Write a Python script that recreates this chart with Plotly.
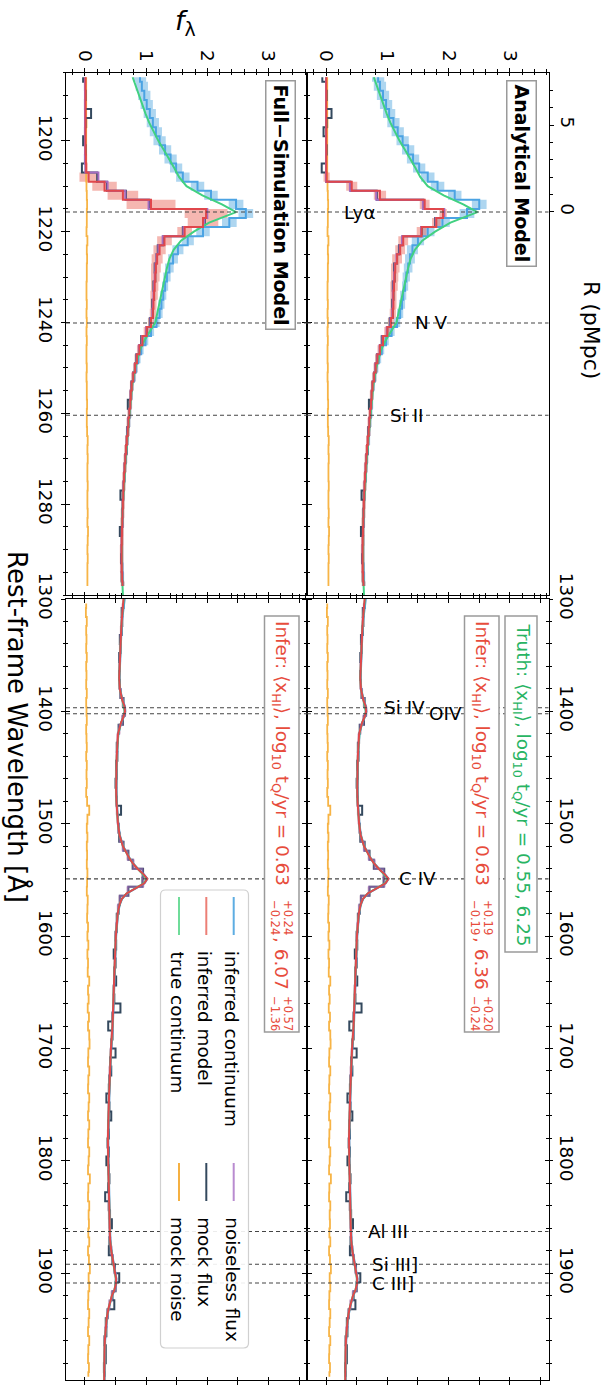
import plotly.graph_objects as go

# ------------------------------------------------------------------
# Data
# ------------------------------------------------------------------
# Lyman-alpha window: 2 A bins (centres)
lam_bin_up = list(range(1186, 1300, 2))

# true intrinsic continuum, Lya window (smooth line)
lam_true_up = [1186, 1188, 1190, 1192, 1194, 1196, 1198, 1200, 1202, 1204, 1206, 1208,
               1210, 1212, 1214, 1215.7, 1217, 1218, 1220, 1222, 1224, 1226, 1228, 1230,
               1232, 1234, 1236, 1238, 1240, 1242, 1244, 1246, 1248, 1250, 1254, 1258,
               1262, 1266, 1270, 1275, 1280, 1285, 1290, 1295, 1300]
true_up = [0.78, 0.83, 0.88, 0.93, 0.99, 1.05, 1.12, 1.20, 1.29, 1.38, 1.46, 1.54,
           1.66, 1.92, 2.24, 2.47, 2.22, 2.03, 1.78, 1.57, 1.45, 1.38, 1.34, 1.31,
           1.28, 1.25, 1.22, 1.19, 1.15, 1.06, 0.97, 0.90, 0.86, 0.82, 0.77, 0.74,
           0.715, 0.69, 0.665, 0.64, 0.62, 0.605, 0.60, 0.605, 0.62]

# inferred continuum (binned)
cont_inf_sim = [0.90, 0.93, 0.97, 1.01, 1.06, 1.11, 1.16, 1.22, 1.31, 1.40, 1.49, 1.60,
                1.84, 2.06, 2.47, 2.63, 2.36, 1.93, 1.68, 1.52, 1.44, 1.38, 1.34, 1.31,
                1.28, 1.25, 1.22, 1.17, 1.08, 0.99, 0.92, 0.87, 0.83, 0.80, 0.77, 0.755,
                0.74, 0.73, 0.715, 0.70, 0.69, 0.675, 0.665, 0.655, 0.645, 0.635, 0.625,
                0.62, 0.615, 0.61, 0.605, 0.605, 0.605, 0.605, 0.61, 0.615, 0.62]
cont_inf_ana = [0.85, 0.88, 0.93, 0.98, 1.03, 1.10, 1.17, 1.25, 1.34, 1.42, 1.52, 1.66,
                1.82, 2.10, 2.50, 2.30, 1.90, 1.66, 1.50, 1.41, 1.37, 1.34, 1.31, 1.29,
                1.26, 1.24, 1.21, 1.16, 1.07, 0.98, 0.91, 0.86, 0.82, 0.79, 0.77, 0.75,
                0.74, 0.73, 0.715, 0.70, 0.69, 0.675, 0.665, 0.655, 0.645, 0.635, 0.625,
                0.62, 0.615, 0.61, 0.605, 0.605, 0.605, 0.605, 0.61, 0.615, 0.62]
cont_sig = [0.10, 0.10, 0.10, 0.10, 0.10, 0.10, 0.10, 0.10, 0.10, 0.10, 0.10, 0.11,
            0.11, 0.11, 0.12, 0.12, 0.12, 0.11, 0.10, 0.09, 0.08, 0.07, 0.06, 0.05,
            0.05, 0.05, 0.05, 0.05, 0.05, 0.045, 0.04, 0.04, 0.035, 0.035, 0.03, 0.03,
            0.03, 0.03, 0.03, 0.03, 0.03, 0.025, 0.025, 0.025, 0.025, 0.025, 0.025,
            0.025, 0.025, 0.025, 0.025, 0.025, 0.025, 0.025, 0.025, 0.025, 0.025]

# inferred model flux (binned)
model_sim = [0.01, 0.01, 0.01, 0.01, 0.01, 0.01, 0.01, 0.01, 0.01, 0.015, 0.02,
             0.06, 0.32, 0.62, 1.08, 1.98, 1.93, 1.63, 1.30, 1.22, 1.18, 1.16, 1.15,
             1.14, 1.13, 1.12, 1.11, 1.08, 1.01, 0.94, 0.89, 0.85, 0.82, 0.79, 0.765,
             0.75, 0.74, 0.725, 0.71, 0.70, 0.685, 0.672, 0.66, 0.65, 0.64, 0.632,
             0.625, 0.62, 0.615, 0.61, 0.605, 0.603, 0.60, 0.60, 0.602, 0.608, 0.615]
model_ana = [0.005, 0.005, 0.005, 0.005, 0.005, 0.005, 0.005, 0.005, 0.005, 0.005, 0.005,
             0.01, 0.42, 0.88, 1.61, 1.91, 1.80, 1.56, 1.26, 1.21, 1.16, 1.13, 1.12,
             1.11, 1.10, 1.10, 1.09, 1.06, 1.00, 0.93, 0.88, 0.84, 0.81, 0.785, 0.76,
             0.745, 0.735, 0.72, 0.707, 0.697, 0.683, 0.67, 0.658, 0.648, 0.638, 0.63,
             0.623, 0.618, 0.613, 0.608, 0.603, 0.60, 0.598, 0.598, 0.60, 0.606, 0.613]
model_sig_sim = [0.02, 0.02, 0.02, 0.02, 0.02, 0.02, 0.02, 0.02, 0.02, 0.02, 0.02,
                 0.15, 0.20, 0.25, 0.40, 0.35, 0.25, 0.12, 0.12, 0.10, 0.09, 0.08, 0.07,
                 0.06, 0.06, 0.05, 0.05, 0.05, 0.05, 0.04, 0.04, 0.04, 0.035, 0.035, 0.03,
                 0.03, 0.03, 0.03, 0.03, 0.03, 0.03, 0.03, 0.03, 0.03, 0.03, 0.03,
                 0.03, 0.03, 0.03, 0.03, 0.03, 0.03, 0.03, 0.03, 0.03, 0.03, 0.03]
model_sig_ana = [0.02, 0.02, 0.02, 0.02, 0.02, 0.02, 0.02, 0.02, 0.02, 0.02, 0.02,
                 0.05, 0.09, 0.10, 0.08, 0.06, 0.07, 0.08, 0.08, 0.08, 0.08, 0.07, 0.06,
                 0.06, 0.05, 0.05, 0.05, 0.05, 0.05, 0.04, 0.04, 0.04, 0.035, 0.035, 0.03,
                 0.03, 0.03, 0.03, 0.03, 0.03, 0.03, 0.03, 0.03, 0.03, 0.03, 0.03,
                 0.03, 0.03, 0.03, 0.03, 0.03, 0.03, 0.03, 0.03, 0.03, 0.03, 0.03]

# noiseless transmitted flux (binned)
clean_sim = [0.0, 0.0, 0.0, 0.0, 0.0, 0.0, 0.0, 0.0, 0.0, 0.0, 0.005,
             0.22, 0.37, 0.66, 1.04, 2.00, 1.95, 1.61, 1.27, 1.20, 1.17, 1.15, 1.14,
             1.13, 1.12, 1.11, 1.10, 1.07, 1.00, 0.93, 0.88, 0.845, 0.815, 0.787, 0.762,
             0.747, 0.737, 0.722, 0.708, 0.698, 0.684, 0.671, 0.659, 0.649, 0.639, 0.631,
             0.624, 0.619, 0.614, 0.609, 0.604, 0.601, 0.599, 0.599, 0.601, 0.607, 0.614]
clean_ana = [0.0, 0.0, 0.0, 0.0, 0.0, 0.0, 0.0, 0.0, 0.0, 0.0, 0.0,
             0.0, 0.39, 0.82, 1.58, 1.93, 1.79, 1.55, 1.24, 1.20, 1.15, 1.12, 1.11,
             1.10, 1.09, 1.09, 1.08, 1.05, 0.99, 0.92, 0.875, 0.835, 0.805, 0.787, 0.762,
             0.747, 0.737, 0.722, 0.708, 0.698, 0.684, 0.671, 0.659, 0.649, 0.639, 0.631,
             0.624, 0.619, 0.614, 0.609, 0.604, 0.601, 0.599, 0.599, 0.601, 0.607, 0.614]

# mock observed flux (binned)
mock_sim = [-0.03, 0.0, 0.01, 0.0, 0.10, 0.01, 0.0, -0.03, 0.01, 0.0, -0.05,
            0.20, 0.36, 0.67, 1.05, 1.99, 1.96, 1.60, 1.28, 1.19, 1.17, 1.14, 1.15,
            1.12, 1.13, 1.10, 1.11, 1.06, 1.01, 0.92, 0.89, 0.84, 0.82, 0.79, 0.76,
            0.75, 0.70, 0.72, 0.71, 0.69, 0.685, 0.68, 0.66, 0.65, 0.64, 0.635,
            0.58, 0.62, 0.61, 0.61, 0.57, 0.605, 0.60, 0.59, 0.605, 0.60, 0.615]
mock_ana = [-0.06, 0.0, 0.01, 0.0, 0.09, 0.01, -0.04, 0.0, 0.01, 0.0, -0.07,
            0.0, 0.40, 0.83, 1.59, 1.92, 1.78, 1.56, 1.25, 1.19, 1.16, 1.11, 1.12,
            1.09, 1.10, 1.08, 1.09, 1.04, 1.00, 0.91, 0.88, 0.83, 0.81, 0.79, 0.76,
            0.75, 0.70, 0.72, 0.71, 0.69, 0.685, 0.68, 0.66, 0.65, 0.64, 0.635,
            0.58, 0.62, 0.61, 0.61, 0.57, 0.605, 0.60, 0.59, 0.605, 0.60, 0.615]

noise_up = [0.02, 0.02, 0.02, 0.02, 0.02, 0.025, 0.02, 0.02, 0.02, 0.02, 0.02, 0.02,
            0.025, 0.03, 0.035, 0.03, 0.03, 0.025, 0.04, 0.03, 0.035, 0.03, 0.03, 0.025,
            0.025, 0.03, 0.025, 0.03, 0.025, 0.03, 0.025, 0.025, 0.03, 0.025, 0.03, 0.03,
            0.035, 0.03, 0.03, 0.035, 0.045, 0.04, 0.045, 0.04, 0.04, 0.045, 0.04, 0.04,
            0.045, 0.04, 0.05, 0.045, 0.04, 0.045, 0.04, 0.04, 0.04]

# Red-side continuum window: smooth curves
lam_smooth_lo = [1300, 1310, 1320, 1330, 1340, 1350, 1360, 1370, 1380, 1390, 1395, 1400,
                 1405, 1410, 1420, 1430, 1440, 1450, 1460, 1470, 1480, 1490, 1500, 1510,
                 1520, 1530, 1535, 1540, 1545, 1549, 1553, 1557, 1562, 1567, 1572, 1580,
                 1590, 1600, 1620, 1640, 1660, 1680, 1700, 1720, 1740, 1760, 1780, 1800,
                 1820, 1840, 1860, 1870, 1880, 1890, 1900, 1905, 1910, 1915, 1920, 1930,
                 1940, 1950, 1960, 1970, 1980, 1995]
model_lo = [0.63, 0.61, 0.60, 0.59, 0.58, 0.57, 0.565, 0.56, 0.57, 0.61, 0.645, 0.655,
            0.63, 0.59, 0.54, 0.525, 0.52, 0.515, 0.51, 0.51, 0.515, 0.525, 0.54, 0.565,
            0.62, 0.72, 0.78, 0.86, 0.96, 1.02, 0.97, 0.84, 0.68, 0.60, 0.565, 0.535,
            0.515, 0.505, 0.49, 0.48, 0.465, 0.45, 0.425, 0.405, 0.395, 0.385, 0.375, 0.38,
            0.39, 0.39, 0.40, 0.41, 0.43, 0.46, 0.49, 0.51, 0.505, 0.48, 0.44, 0.39,
            0.355, 0.335, 0.325, 0.32, 0.32, 0.315]
true_lo = [0.635, 0.615, 0.60, 0.59, 0.58, 0.57, 0.565, 0.56, 0.57, 0.61, 0.64, 0.65,
           0.63, 0.59, 0.545, 0.53, 0.52, 0.515, 0.51, 0.51, 0.515, 0.525, 0.54, 0.565,
           0.62, 0.72, 0.78, 0.86, 0.95, 1.01, 0.96, 0.84, 0.68, 0.60, 0.565, 0.535,
           0.515, 0.505, 0.49, 0.48, 0.465, 0.45, 0.425, 0.405, 0.395, 0.385, 0.375, 0.38,
           0.39, 0.39, 0.40, 0.41, 0.43, 0.46, 0.49, 0.505, 0.50, 0.48, 0.44, 0.39,
           0.355, 0.335, 0.325, 0.32, 0.32, 0.315]
cont_inf_lo = [0.65, 0.625, 0.605, 0.595, 0.585, 0.575, 0.57, 0.565, 0.575, 0.615, 0.65, 0.66,
               0.635, 0.595, 0.545, 0.53, 0.525, 0.52, 0.515, 0.515, 0.52, 0.53, 0.545, 0.57,
               0.625, 0.725, 0.785, 0.865, 0.965, 1.02, 0.975, 0.845, 0.685, 0.605, 0.57, 0.54,
               0.52, 0.51, 0.495, 0.485, 0.47, 0.455, 0.43, 0.41, 0.40, 0.39, 0.38, 0.385,
               0.395, 0.395, 0.405, 0.415, 0.435, 0.465, 0.495, 0.515, 0.51, 0.485, 0.445, 0.395,
               0.36, 0.34, 0.33, 0.325, 0.325, 0.32]

# Red-side window: 8 A bins (centres)
lam_bin_lo = list(range(1304, 1996, 8))
clean_lo = [0.62, 0.61, 0.60, 0.59, 0.58, 0.575, 0.57, 0.565, 0.56, 0.565,
            0.585, 0.62, 0.655, 0.61, 0.56, 0.535, 0.525, 0.52, 0.515, 0.51,
            0.51, 0.51, 0.515, 0.523, 0.535, 0.55, 0.57, 0.62, 0.70, 0.79,
            0.94, 0.95, 0.70, 0.57, 0.54, 0.525, 0.513, 0.505, 0.50, 0.493,
            0.488, 0.484, 0.48, 0.474, 0.468, 0.462, 0.456, 0.45, 0.44, 0.43,
            0.421, 0.413, 0.405, 0.40, 0.397, 0.393, 0.389, 0.385, 0.381, 0.377,
            0.376, 0.378, 0.38, 0.384, 0.388, 0.39, 0.39, 0.39, 0.394, 0.398,
            0.404, 0.414, 0.43, 0.454, 0.478, 0.505, 0.497, 0.44, 0.40, 0.37,
            0.351, 0.333, 0.325, 0.321, 0.32, 0.318, 0.316]
mock_lo = [0.63, 0.60, 0.61, 0.60, 0.57, 0.58, 0.56, 0.57, 0.56, 0.57,
           0.58, 0.63, 0.65, 0.62, 0.55, 0.54, 0.52, 0.53, 0.51, 0.52,
           0.50, 0.51, 0.52, 0.59, 0.54, 0.55, 0.56, 0.63, 0.71, 0.78,
           0.95, 0.94, 0.71, 0.57, 0.55, 0.52, 0.52, 0.50, 0.51, 0.47,
           0.50, 0.48, 0.51, 0.47, 0.48, 0.58, 0.45, 0.38, 0.45, 0.43,
           0.50, 0.41, 0.43, 0.40, 0.39, 0.35, 0.40, 0.43, 0.38, 0.39,
           0.37, 0.39, 0.35, 0.39, 0.40, 0.38, 0.33, 0.39, 0.41, 0.44,
           0.41, 0.40, 0.39, 0.45, 0.49, 0.56, 0.50, 0.45, 0.48, 0.37,
           0.34, 0.35, 0.32, 0.34, 0.34, 0.31, 0.32]
noise_lo = [0.02, 0.015, 0.03, 0.02, 0.025, 0.02, 0.03, 0.02, 0.025, 0.02,
            0.03, 0.02, 0.025, 0.03, 0.02, 0.025, 0.03, 0.02, 0.03, 0.025,
            0.03, 0.02, 0.035, 0.07, 0.04, 0.03, 0.04, 0.03, 0.035, 0.03,
            0.04, 0.035, 0.03, 0.045, 0.04, 0.035, 0.05, 0.04, 0.055, 0.04,
            0.05, 0.045, 0.07, 0.05, 0.06, 0.045, 0.065, 0.05, 0.07, 0.075,
            0.055, 0.05, 0.07, 0.055, 0.05, 0.07, 0.06, 0.05, 0.07, 0.055,
            0.05, 0.07, 0.06, 0.05, 0.08, 0.055, 0.05, 0.07, 0.06, 0.065,
            0.055, 0.07, 0.05, 0.065, 0.08, 0.06, 0.07, 0.055, 0.05, 0.07,
            0.06, 0.05, 0.07, 0.055, 0.05, 0.065, 0.055]
model_sig_lo = 0.02

# emission lines
line_names = ["Lyα", "N V", "Si II", "Si IV", "OIV", "C IV", "Al III", "Si III]", "C III]"]
line_lam = [1215.67, 1240.1, 1260.42, 1396.76, 1402.06, 1549.06, 1862.79, 1892.03, 1908.73]
line_label_flux = [0.26, 1.42, 1.01, 0.91, 1.64, 1.16, 0.65, 0.72, 0.72]

# posterior summaries
truth_xhi, truth_tq = "0.55", "6.25"
infer_ana = ("0.63", "+0.19", "−0.19", "6.36", "+0.20", "−0.24")
infer_sim = ("0.63", "+0.24", "−0.24", "6.07", "+0.57", "−1.36")

# ------------------------------------------------------------------
# Styling
# ------------------------------------------------------------------
FONT = "DejaVu Sans"
FS = 18.4
W, H = 612, 1385
def px(x): return x / W
def py(y): return 1 - y / H

C_BLUE = "#4ba3e3"
C_BLUE_BAND = "rgba(93,173,226,0.5)"
C_RED = "#e0474c"
C_RED_BAND = "rgba(236,112,99,0.5)"
C_GREEN = "#41d181"
C_PURPLE = "#a56cc1"
C_NAVY = "#34495e"
C_ORANGE = "#f7b446"

FLUX_RANGE = [-0.31, 3.63]
LAM_UP = [1300, 1185]
LAM_LO = [1995, 1300]
XL = [px(66), px(307)]
XR = [px(307), px(548.5)]
YU = [py(595), py(72.7)]
YD = [py(1380), py(599)]

fig = go.Figure()

def step(x, y, color, width, xa, ya, opacity=1.0):
    fig.add_trace(go.Scatter(x=x, y=y, mode="lines", xaxis=xa, yaxis=ya,
                             line=dict(color=color, width=width, shape="vhv"),
                             opacity=opacity, showlegend=False, hoverinfo="skip"))

def smooth(x, y, color, width, xa, ya, opacity=1.0):
    fig.add_trace(go.Scatter(x=x, y=y, mode="lines", xaxis=xa, yaxis=ya,
                             line=dict(color=color, width=width),
                             opacity=opacity, showlegend=False, hoverinfo="skip"))

def band(centre, sig, lam, color, xa, ya):
    if not isinstance(sig, list):
        sig = [sig] * len(centre)
    lo = [c - s for c, s in zip(centre, sig)]
    hi = [c + s for c, s in zip(centre, sig)]
    fig.add_trace(go.Scatter(x=lo, y=lam, mode="lines", xaxis=xa, yaxis=ya,
                             line=dict(width=0, shape="vhv"), showlegend=False,
                             hoverinfo="skip"))
    fig.add_trace(go.Scatter(x=hi, y=lam, mode="lines", xaxis=xa, yaxis=ya,
                             line=dict(width=0, shape="vhv"), fill="tonextx",
                             fillcolor=color, showlegend=False, hoverinfo="skip"))

# Lya window panels
for xa, ya, cont, model, msig, clean, mock in [
        ("x", "y", cont_inf_sim, model_sim, model_sig_sim, clean_sim, mock_sim),
        ("x2", "y2", cont_inf_ana, model_ana, model_sig_ana, clean_ana, mock_ana)]:
    band(cont, cont_sig, lam_bin_up, C_BLUE_BAND, xa, ya)
    band(model, msig, lam_bin_up, C_RED_BAND, xa, ya)
    step(noise_up, lam_bin_up, C_ORANGE, 1.8, xa, ya)
    step(mock, lam_bin_up, C_NAVY, 2, xa, ya)
    step(clean, lam_bin_up, C_PURPLE, 2, xa, ya)
    step(cont, lam_bin_up, C_BLUE, 2, xa, ya)
    smooth(true_up, lam_true_up, C_GREEN, 2, xa, ya)
    step(model, lam_bin_up, C_RED, 2, xa, ya)

# red-side continuum panels
for xa, ya in [("x3", "y3"), ("x4", "y4")]:
    band(clean_lo, model_sig_lo, lam_bin_lo, "rgba(200,140,160,0.55)", xa, ya)
    step(noise_lo, lam_bin_lo, C_ORANGE, 1.8, xa, ya)
    step(mock_lo, lam_bin_lo, C_NAVY, 2, xa, ya)
    step(clean_lo, lam_bin_lo, C_PURPLE, 2, xa, ya, 0.6)
    smooth(cont_inf_lo, lam_smooth_lo, C_BLUE, 2, xa, ya)
    smooth(true_lo, lam_smooth_lo, C_GREEN, 2, xa, ya)
    smooth(model_lo, lam_smooth_lo, C_RED, 2, xa, ya)

# empty traces so the inward-tick overlay axes are laid out
for xa, ya in [("x6", "y"), ("x7", "y2"), ("x8", "y3"), ("x9", "y4"),
               ("x", "y6"), ("x2", "y7"), ("x3", "y8"), ("x4", "y9"), ("x2", "y5")]:
    fig.add_trace(go.Scatter(x=[None], y=[None], xaxis=xa, yaxis=ya, showlegend=False,
                             hoverinfo="skip"))

# ------------------------------------------------------------------
# Axes (matplotlib style in/out ticks = outward axis + inward overlay)
# ------------------------------------------------------------------
TICKFONT = dict(family=FONT, size=FS, color="black")
def ax(direction, **kw):
    d = dict(showgrid=False, zeroline=False, showline=True, linecolor="black",
             linewidth=1.3, ticks=direction, tickcolor="black", tickwidth=1.2,
             ticklen=3.5, tickfont=TICKFONT, tickangle=90, automargin=False)
    d.update(kw)
    return d

def minor(direction, **kw):
    d = dict(ticks=direction, ticklen=2.3, tickwidth=1, tickcolor="black")
    d.update(kw)
    return d

flux_up = dict(range=FLUX_RANGE, tickmode="array", tickvals=[0, 1, 2, 3],
               ticktext=["0", "1", "2", "3"], side="top", mirror="ticks")
flux_lo = dict(range=FLUX_RANGE, tickmode="array", tickvals=[0, 0.5, 1, 1.5, 2, 2.5, 3, 3.5],
               showticklabels=False, side="bottom", mirror="ticks")
lam_up_t = dict(range=LAM_UP, tickmode="array", tickvals=[1200, 1220, 1240, 1260, 1280],
                ticktext=["1200", "1220", "1240", "1260", "1280"])
lam_lo_t = dict(range=LAM_LO, tickmode="array",
                tickvals=[1300, 1400, 1500, 1600, 1700, 1800, 1900],
                ticktext=["1300", "1400", "1500", "1600", "1700", "1800", "1900"])

layout = dict(
    template="none",
    width=W, height=H, margin=dict(l=0, r=0, t=0, b=0, pad=0, autoexpand=False),
    paper_bgcolor="white", plot_bgcolor="rgba(0,0,0,0)", showlegend=False,
    font=dict(family=FONT, color="black"),
)

for name, dom, anchor in [("xaxis", XL, "y"), ("xaxis2", XR, "y2")]:
    layout[name] = ax("outside", domain=dom, anchor=anchor,
                      minor=minor("outside", dtick=0.2, tick0=0), **flux_up)
for name, dom, anchor in [("xaxis3", XL, "y3"), ("xaxis4", XR, "y4")]:
    layout[name] = ax("outside", domain=dom, anchor=anchor, **flux_lo)

layout["yaxis"] = ax("outside", domain=YU, anchor="x", side="left", mirror="ticks",
                     minor=minor("outside", dtick=5, tick0=1185), **lam_up_t)
layout["yaxis2"] = ax("outside", domain=YU, anchor="x2", side="left", mirror=True,
                      showticklabels=False, minor=minor("outside", dtick=5, tick0=1185),
                      **lam_up_t)
layout["yaxis3"] = ax("outside", domain=YD, anchor="x3", side="left", mirror="ticks",
                      minor=minor("outside", dtick=20, tick0=1300), **lam_lo_t)
layout["yaxis4"] = ax("outside", domain=YD, anchor="x4", side="right", mirror="ticks",
                      minor=minor("outside", dtick=20, tick0=1300), **lam_lo_t)

# proper distance from the quasar along the sightline
R_RANGE = [-22.02, 8.008]
layout["yaxis5"] = ax("outside", overlaying="y2", anchor="x2", side="right",
                      range=R_RANGE, tickmode="array", tickvals=[0, 5], ticktext=["0", "5"],
                      showline=False, ticklen=4,
                      minor=minor("outside", tickmode="array", tickvals=[1, 2, 3, 4, 6, 7],
                                  ticklen=3))

# inward halves of the ticks
def inward(base, **kw):
    d = dict(base)
    d.update(kw)
    d["showticklabels"] = False
    d["showline"] = False
    d["ticks"] = "inside"
    if "minor" in d:
        m = dict(d["minor"])
        m["ticks"] = "inside"
        d["minor"] = m
    d.pop("domain", None)
    return d

layout["xaxis6"] = inward(layout["xaxis"], overlaying="x", anchor="y")
layout["xaxis7"] = inward(layout["xaxis2"], overlaying="x2", anchor="y2")
layout["xaxis8"] = inward(layout["xaxis3"], overlaying="x3", anchor="y3")
layout["xaxis9"] = inward(layout["xaxis4"], overlaying="x4", anchor="y4")
layout["yaxis6"] = inward(layout["yaxis"], overlaying="y", anchor="x")
layout["yaxis7"] = inward(layout["yaxis2"], overlaying="y2", anchor="x2", mirror=False)
layout["yaxis8"] = inward(layout["yaxis3"], overlaying="y3", anchor="x3")
layout["yaxis9"] = inward(layout["yaxis4"], overlaying="y4", anchor="x4")

fig.update_layout(**layout)

# ------------------------------------------------------------------
# Emission-line markers
# ------------------------------------------------------------------
shapes = []
annotations = []
for name, lam, fl in zip(line_names, line_lam, line_label_flux):
    upper = lam < 1300
    for xa, ya in ([("x", "y"), ("x2", "y2")] if upper else [("x3", "y3"), ("x4", "y4")]):
        shapes.append(dict(type="line", xref=xa + " domain", yref=ya, x0=0, x1=1,
                           y0=lam, y1=lam, layer="above",
                           line=dict(color="#444444", width=1.1, dash="4px,3px")))
    xa, ya = ("x2", "y2") if upper else ("x4", "y4")
    annotations.append(dict(text=name, x=fl, y=lam, xref=xa, yref=ya, xanchor="left",
                            yanchor="middle", showarrow=False,
                            font=dict(family=FONT, size=FS, color="black")))

# ------------------------------------------------------------------
# Posterior text boxes
# ------------------------------------------------------------------
def box(x0, x1, y0, y1):
    shapes.append(dict(type="rect", xref="paper", yref="paper", x0=px(x0), x1=px(x1),
                       y0=py(y1), y1=py(y0), fillcolor="white", layer="above",
                       line=dict(color="#9a9a9a", width=1.5)))

def rtext(text, xc, ytop, size, color, bold=False):
    annotations.append(dict(text=f"<b>{text}</b>" if bold else text, x=px(xc), y=py(ytop),
                            xref="paper", yref="paper", xanchor="center", yanchor="top",
                            textangle=90, showarrow=False,
                            font=dict(family=FONT, size=size, color=color)))

PREFIX_T = "Truth: ⟨x<sub>HI</sub>⟩, log<sub>10</sub> t<sub>Q</sub>/yr = "
PREFIX_I = "Infer: ⟨x<sub>HI</sub>⟩, log<sub>10</sub> t<sub>Q</sub>/yr = "
C_TXT_G = "#28b463"
C_TXT_R = "#e74c3c"
FS_SCRIPT = 11.5

box(505, 537, 616, 952)
rtext(PREFIX_T + truth_xhi + ", " + truth_tq, 521, 621, FS, C_TXT_G)

for (xc, vals) in [(481.5, infer_ana), (281.5, infer_sim)]:
    box(xc - 17, xc + 17.5, 616, 1032)
    rtext(PREFIX_I + vals[0], xc, 619, FS, C_TXT_R)
    rtext(vals[1], xc + 7, 898, FS_SCRIPT, C_TXT_R)
    rtext(vals[2], xc - 6, 898, FS_SCRIPT, C_TXT_R)
    rtext(", " + vals[3], xc, 935, FS, C_TXT_R)
    rtext(vals[4], xc + 7, 994, FS_SCRIPT, C_TXT_R)
    rtext(vals[5], xc - 6, 994, FS_SCRIPT, C_TXT_R)

# model tags
annotations.append(dict(text="<b>Analytical Model</b>", x=px(522), y=py(173),
                        xref="paper", yref="paper", xanchor="center", yanchor="middle",
                        textangle=90, showarrow=False,
                        font=dict(family=FONT, size=19, color="black"),
                        bgcolor="white", bordercolor="#9a9a9a", borderwidth=1.5, borderpad=3))
annotations.append(dict(text="<b>Full−Simulation Model</b>", x=px(281), y=py(205),
                        xref="paper", yref="paper", xanchor="center", yanchor="middle",
                        textangle=90, showarrow=False,
                        font=dict(family=FONT, size=19, color="black"),
                        bgcolor="white", bordercolor="#9a9a9a", borderwidth=1.5, borderpad=3))

# ------------------------------------------------------------------
# Legend (drawn rotated with the rest of the figure)
# ------------------------------------------------------------------
lx0, lx1, ly0, ly1, r = 160.5, 248.5, 890, 1348, 5
path = (f"M {px(lx0 + r)},{py(ly0)} L {px(lx1 - r)},{py(ly0)} "
        f"Q {px(lx1)},{py(ly0)} {px(lx1)},{py(ly0 + r)} "
        f"L {px(lx1)},{py(ly1 - r)} Q {px(lx1)},{py(ly1)} {px(lx1 - r)},{py(ly1)} "
        f"L {px(lx0 + r)},{py(ly1)} Q {px(lx0)},{py(ly1)} {px(lx0)},{py(ly1 - r)} "
        f"L {px(lx0)},{py(ly0 + r)} Q {px(lx0)},{py(ly0)} {px(lx0 + r)},{py(ly0)} Z")
shapes.append(dict(type="path", path=path, xref="paper", yref="paper", layer="above",
                   fillcolor="rgba(255,255,255,0.9)", line=dict(color="#d0d0d0", width=1.2)))

legend_entries = [
    ("inferred continuum", "#5dade2", 233.7, 897),
    ("inferred model", "#ec7f76", 206.3, 897),
    ("true continuum", "#6fdc9a", 179.0, 897),
    ("noiseless flux", "#b98bd0", 233.7, 1163),
    ("mock flux", "#34495e", 206.3, 1163),
    ("mock noise", "#f5b041", 179.0, 1163),
]
for label, col, xc, y0 in legend_entries:
    shapes.append(dict(type="line", xref="paper", yref="paper", x0=px(xc), x1=px(xc),
                       y0=py(y0), y1=py(y0 + 38), layer="above", line=dict(color=col, width=2)))
    rtext(label, xc - 1.5, y0 + 52, FS, "black")

# axis titles
annotations.append(dict(text="Rest-frame Wavelength [Å]", x=px(18), y=py(727),
                        xref="paper", yref="paper", xanchor="center", yanchor="middle",
                        textangle=90, showarrow=False,
                        font=dict(family=FONT, size=26, color="black")))
annotations.append(dict(text="R (pMpc)", x=px(592), y=py(330), xref="paper", yref="paper",
                        xanchor="center", yanchor="middle", textangle=90, showarrow=False,
                        font=dict(family=FONT, size=22, color="black")))
annotations.append(dict(text="<i>f</i><sub>λ</sub>", x=px(185), y=py(22), xref="paper",
                        yref="paper", xanchor="center", yanchor="middle", showarrow=False,
                        font=dict(family=FONT, size=27, color="black")))

fig.update_layout(shapes=shapes, annotations=annotations)
fig.write_html("out.html")
